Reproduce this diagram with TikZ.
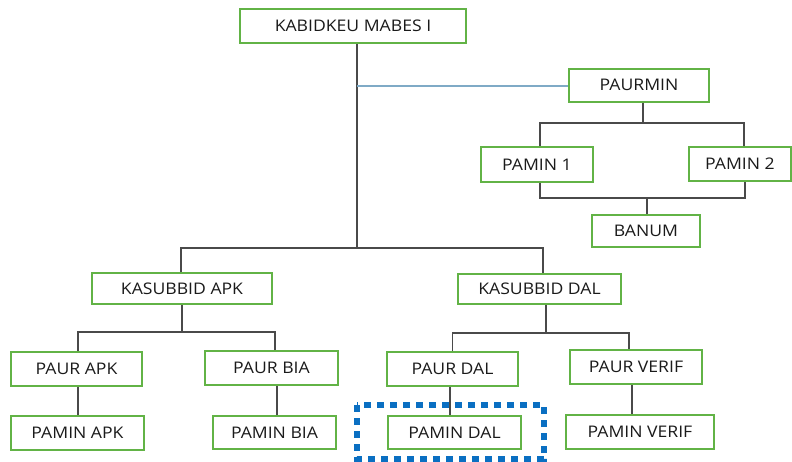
\documentclass[tikz,border=0pt]{standalone}
\usepackage{fontspec}
\setmainfont[FakeStretch=1.1]{Open Sans}
\definecolor{boxgreen}{HTML}{62B346}
\definecolor{linegray}{HTML}{4A4A4A}
\definecolor{txt}{HTML}{1A1A1A}
\definecolor{paleblue}{HTML}{7FAAC6}
\definecolor{dotblue}{HTML}{0A6FC2}
\begin{document}
\begin{tikzpicture}[x=1pt,y=-1pt,
  box/.style={draw=boxgreen, line width=2pt, inner sep=0pt, fill=white,
    font=\fontsize{16}{18}\selectfont, text=txt},
  conn/.style={draw=linegray, line width=1.4pt},
  bconn/.style={draw=paleblue, line width=1.4pt},
  hilite/.style={draw=dotblue, line width=6pt, dash pattern=on 7pt off 6pt}]
\useasboundingbox (0,0) rectangle (792,461);

% highlight
\draw[hilite] (357,405) rectangle (544,459);

% nodes
\node[box, minimum width=226, minimum height=34] (kab) at (353,26) {KABIDKEU MABES I};
\node[box, minimum width=140, minimum height=33] (paurmin) at (639,85) {PAURMIN};
\node[box, minimum width=112, minimum height=35] (pamin1) at (537,164.5) {PAMIN 1};
\node[box, minimum width=102, minimum height=34] (pamin2) at (740,164) {PAMIN 2};
\node[box, minimum width=108, minimum height=32] (banum) at (646,231) {BANUM};
\node[box, minimum width=180, minimum height=31] (kapk) at (182,288.5) {KASUBBID APK};
\node[box, minimum width=163, minimum height=30] (kdal) at (539.5,289) {KASUBBID DAL};
\node[box, minimum width=131, minimum height=34] (paurapk) at (76.5,369) {PAUR APK};
\node[box, minimum width=133, minimum height=34] (paurbia) at (271.5,368) {PAUR BIA};
\node[box, minimum width=133, minimum height=34] (paminapk) at (77.5,433) {PAMIN APK};
\node[box, minimum width=123, minimum height=33] (paminbia) at (274.5,432.5) {PAMIN BIA};
\node[box, minimum width=131, minimum height=34] (paurdal) at (452.5,369) {PAUR DAL};
\node[box, minimum width=132, minimum height=34] (paurverif) at (636,367) {PAUR VERIF};
\node[box, minimum width=133, minimum height=33] (pamindal) at (454.5,432.5) {PAMIN DAL};
\node[box, minimum width=148, minimum height=34] (paminverif) at (640,432) {PAMIN VERIF};

% junctions
\coordinate (j0) at (357,248);
\coordinate (jb) at (357,86);
\coordinate (j1) at (643,123);
\coordinate (j2) at (647,198);
\coordinate (j3) at (182,332);
\coordinate (j4) at (546,333);

% connectors
\draw[conn] (kab.south -| j0) -- (j0);
\draw[bconn] (jb) -- (paurmin.west |- jb);
\draw[conn] (paurmin.south -| j1) -- (j1);
\draw[conn] ([xshift=3pt]pamin1.north) |- (j1) -| ([xshift=4pt]pamin2.north);
\draw[conn] ([xshift=3pt]pamin1.south) |- (j2) -| ([xshift=5pt]pamin2.south);
\draw[conn] (banum.north -| j2) -- (j2);
\draw[conn] ([xshift=-1pt]kapk.north) |- (j0) -| ([xshift=3.5pt]kdal.north);
\draw[conn] (kapk.south) -- (j3);
\draw[conn] ([xshift=1.5pt]paurapk.north) |- (j3) -| ([xshift=3.5pt]paurbia.north);
\draw[conn] ([xshift=1.5pt]paurapk.south) -- ([xshift=1.5pt]paurapk.south |- paminapk.north);
\draw[conn] ([xshift=5.5pt]paurbia.south) -- ([xshift=5.5pt]paurbia.south |- paminbia.north);
\draw[conn] (kdal.south -| j4) -- (j4);
\draw[conn] (paurdal.north) |- (j4) -| ([xshift=-7pt]paurverif.north);
\draw[conn] ([xshift=-2.5pt]paurdal.south) -- ([xshift=-2.5pt]paurdal.south |- pamindal.north);
\draw[conn] ([xshift=-4pt]paurverif.south) -- ([xshift=-4pt]paurverif.south |- paminverif.north);
\end{tikzpicture}
\end{document}
